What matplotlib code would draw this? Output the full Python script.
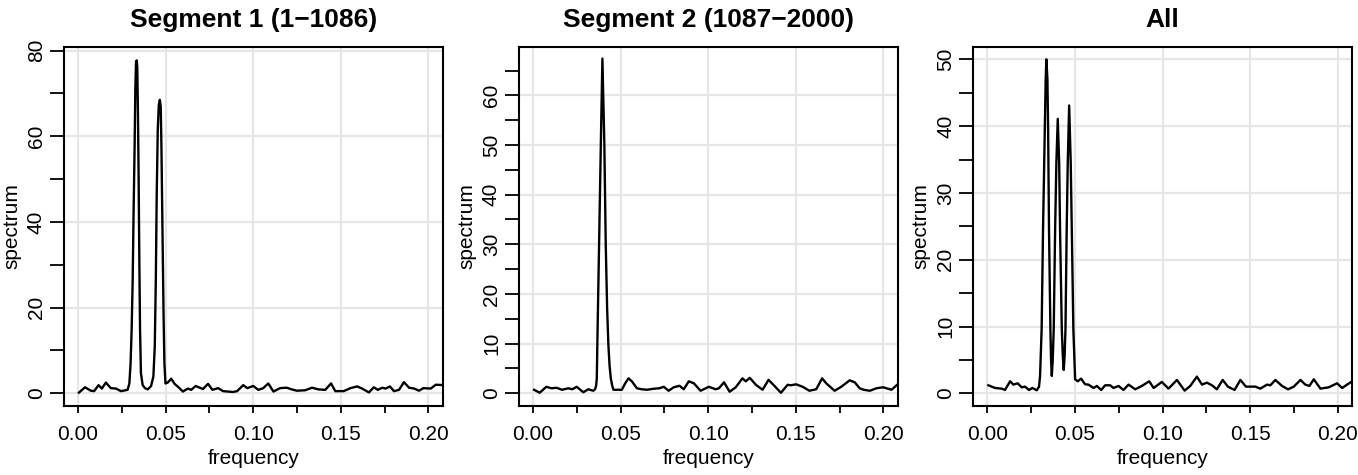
import matplotlib.pyplot as plt
from matplotlib.ticker import MultipleLocator

plt.rcParams['font.family'] = ['Liberation Sans', 'DejaVu Sans']

# values
seg1_freq = [0.0005, 0.0040, 0.0073, 0.0092, 0.0117, 0.0136, 0.0159, 0.0187, 0.0216, 0.0245,
             0.0283, 0.0293, 0.0300, 0.0306, 0.0312, 0.0317, 0.0323, 0.0327, 0.0331, 0.0335,
             0.0338, 0.0342, 0.0346, 0.0350, 0.0354, 0.0359, 0.0369, 0.0382, 0.0398, 0.0417,
             0.0430, 0.0438, 0.0444, 0.0449, 0.0455, 0.0461, 0.0467, 0.0472, 0.0476, 0.0482,
             0.0488, 0.0493, 0.0499, 0.0512, 0.0532, 0.0551,
             0.0579, 0.0598, 0.0627, 0.0646, 0.0671, 0.0713, 0.0742, 0.0767, 0.0799, 0.0828,
             0.0885, 0.0908, 0.0943, 0.0966, 0.1000, 0.1029, 0.1057, 0.1086, 0.1115, 0.1153,
             0.1191, 0.1220, 0.1249, 0.1296, 0.1335, 0.1373, 0.1411, 0.1444, 0.1468, 0.1516,
             0.1555, 0.1593, 0.1621, 0.1660, 0.1688, 0.1711, 0.1736, 0.1755, 0.1780, 0.1803,
             0.1832, 0.1860, 0.1889, 0.1918, 0.1946, 0.1971, 0.2013, 0.2042, 0.2086]
seg1_spec = [0.15, 1.4, 0.6, 0.5, 1.9, 1.1, 2.5, 1.2, 1.1, 0.5,
             0.8, 2.3, 7.0, 14.8, 26.5, 42.0, 57.6, 70.8, 77.4, 77.7,
             76.3, 65.4, 49.8, 30.4, 14.8, 4.7, 1.9, 1.2, 0.9, 1.7,
             3.9, 10.9, 26.5, 45.9, 61.5, 67.3, 68.5, 66.9, 57.6, 38.1,
             18.7, 7.0, 2.3, 2.5, 3.4, 2.2,
             1.2, 0.4, 1.1, 0.8, 1.7, 1.0, 2.2, 0.8, 1.2, 0.5,
             0.3, 0.5, 1.9, 1.2, 1.7, 0.8, 1.2, 2.3, 0.4, 1.2,
             1.3, 0.9, 0.6, 0.7, 1.3, 0.9, 0.8, 2.3, 0.5, 0.5,
             1.2, 1.6, 1.1, 0.2, 1.4, 0.8, 1.3, 1.1, 1.6, 0.5,
             0.8, 2.6, 1.3, 1.1, 0.6, 1.2, 1.1, 2.0, 1.9]

seg2_freq = [0.0006, 0.0038, 0.0076, 0.0105, 0.0134, 0.0166, 0.0201, 0.0224, 0.0249, 0.0287,
             0.0315, 0.0344, 0.0354, 0.0360, 0.0364, 0.0367, 0.0377, 0.0387, 0.0396, 0.0407,
             0.0415, 0.0423, 0.0430, 0.0437, 0.0444, 0.0452, 0.0459,
             0.0488, 0.0507, 0.0526, 0.0545, 0.0564, 0.0593, 0.0621, 0.0650, 0.0688, 0.0721,
             0.0746, 0.0774, 0.0803, 0.0836, 0.0860, 0.0889, 0.0918, 0.0956, 0.1004, 0.1042,
             0.1061, 0.1090, 0.1122, 0.1157, 0.1195, 0.1214, 0.1237, 0.1272, 0.1310, 0.1344,
             0.1377, 0.1415, 0.1453, 0.1472, 0.1501, 0.1539, 0.1577, 0.1616, 0.1650, 0.1673,
             0.1721, 0.1759, 0.1807, 0.1836, 0.1864, 0.1887, 0.1922, 0.1960, 0.1998, 0.2046,
             0.2084]
seg2_spec = [0.7, 0.1, 1.3, 1.0, 1.1, 0.7, 1.0, 0.8, 1.3, 0.2,
             0.8, 0.5, 0.8, 1.5, 3.0, 9.8, 30.0, 50.2, 67.4, 50.2,
             30.0, 17.0, 9.8, 5.5, 3.0, 1.5, 0.7,
             0.7, 0.7, 2.0, 3.0, 2.4, 1.0, 0.8, 0.7, 0.9, 1.0,
             1.3, 0.5, 1.2, 1.5, 0.8, 2.4, 2.0, 0.5, 1.3, 0.8,
             1.0, 2.2, 0.3, 1.2, 3.0, 2.4, 3.1, 1.7, 0.7, 2.7,
             1.5, 0.1, 1.7, 1.6, 1.8, 1.3, 0.5, 0.8, 3.0, 2.0,
             0.5, 1.3, 2.6, 2.2, 1.0, 0.7, 0.5, 1.0, 1.2, 0.7,
             1.9]

all_freq = [0.0006, 0.0044, 0.0082, 0.0101, 0.0130, 0.0149, 0.0173, 0.0196, 0.0215, 0.0238,
            0.0257, 0.0282, 0.0295, 0.0301, 0.0310, 0.0318, 0.0328, 0.0333, 0.0337, 0.0343,
            0.0347, 0.0352, 0.0360, 0.0364, 0.0368, 0.0373, 0.0379, 0.0387, 0.0394, 0.0402,
            0.0410, 0.0415, 0.0425, 0.0431, 0.0436, 0.0441, 0.0446, 0.0453, 0.0459, 0.0467,
            0.0476, 0.0482, 0.0491, 0.0501,
            0.0516, 0.0535, 0.0558, 0.0577, 0.0606, 0.0625, 0.0650, 0.0672, 0.0701,
            0.0720, 0.0749, 0.0777, 0.0806, 0.0844, 0.0882, 0.0924, 0.0949, 0.0996, 0.1034,
            0.1082, 0.1126, 0.1158, 0.1196, 0.1225, 0.1253, 0.1282, 0.1310, 0.1343, 0.1373,
            0.1411, 0.1444, 0.1476, 0.1530, 0.1558, 0.1596, 0.1615, 0.1644, 0.1682, 0.1716,
            0.1749, 0.1787, 0.1815, 0.1838, 0.1863, 0.1901, 0.1949, 0.1996, 0.2025, 0.2053,
            0.2082]
all_spec = [1.2, 0.8, 0.7, 0.5, 1.8, 1.3, 1.5, 0.9, 1.0, 0.5,
            0.8, 0.45, 1.0, 2.6, 9.6, 24.6, 39.5, 47.0, 50.0, 47.0,
            39.5, 24.6, 9.6, 4.8, 2.6, 4.8, 9.6, 24.6, 34.5, 41.1,
            34.5, 24.6, 9.6, 5.5, 3.5, 5.5, 9.6, 24.6, 34.5, 43.1,
            34.5, 24.6, 9.6, 2.1,
            1.8, 2.2, 1.35, 1.3, 0.8, 1.1, 0.5, 1.2, 1.2,
            0.8, 1.1, 0.5, 1.3, 0.6, 1.1, 1.8, 0.8, 1.7, 0.7,
            2.0, 0.4, 1.1, 2.5, 1.3, 1.6, 1.2, 0.6, 2.0, 1.0,
            0.5, 2.0, 1.0, 1.0, 0.7, 1.3, 1.2, 2.0, 1.1, 0.6,
            1.0, 2.0, 1.3, 1.1, 2.1, 0.7, 0.9, 1.5, 0.8, 1.3,
            1.8]

titles = ["Segment 1 (1\u22121086)", "Segment 2 (1087\u22122000)", "All"]
x_ticks = [0.00, 0.05, 0.10, 0.15, 0.20]

panels = [
    (seg1_freq, seg1_spec, (-2.97, 80.9), 20, 10),
    (seg2_freq, seg2_spec, (-2.57, 69.8), 10, 5),
    (all_freq, all_spec, (-1.9, 51.9), 10, 5),
]
lefts = [64, 519, 973.3]

fig = plt.figure(figsize=(13.58, 4.75), dpi=100)

for i, (freq, spec, ylim, ymaj, ymin) in enumerate(panels):
    ax = fig.add_axes([lefts[i] / 1358, 69 / 475, 378.5 / 1358, 359.3 / 475])
    ax.plot(freq, spec, color='black', lw=1.7, zorder=3, solid_joinstyle='round')
    ax.set_xlim(-0.008, 0.208)
    ax.set_ylim(*ylim)

    ax.set_xticks(x_ticks)
    ax.set_xticklabels(["%.2f" % t for t in x_ticks])
    ax.xaxis.set_minor_locator(MultipleLocator(0.025))
    ax.yaxis.set_major_locator(MultipleLocator(ymaj))
    ax.yaxis.set_minor_locator(MultipleLocator(ymin))

    ax.grid(True, which='major', color='#e6e6e6', lw=1.6, zorder=0)
    ax.set_axisbelow(True)

    ax.tick_params(axis='x', which='both', length=5, width=1.3, labelsize=15, pad=9)
    ax.tick_params(axis='y', which='both', length=10, width=1.3, labelsize=15, pad=3)
    for lab in ax.get_yticklabels():
        lab.set_rotation(90)
        lab.set_va('center')

    for sp in ax.spines.values():
        sp.set_linewidth(1.5)

    ax.set_xlabel("frequency", fontsize=15, labelpad=3)
    ax.set_ylabel("spectrum", fontsize=15, labelpad=4)
    ax.set_title(titles[i], fontsize=19, fontweight='bold', pad=14)

fig.savefig("out.png", dpi=100)
